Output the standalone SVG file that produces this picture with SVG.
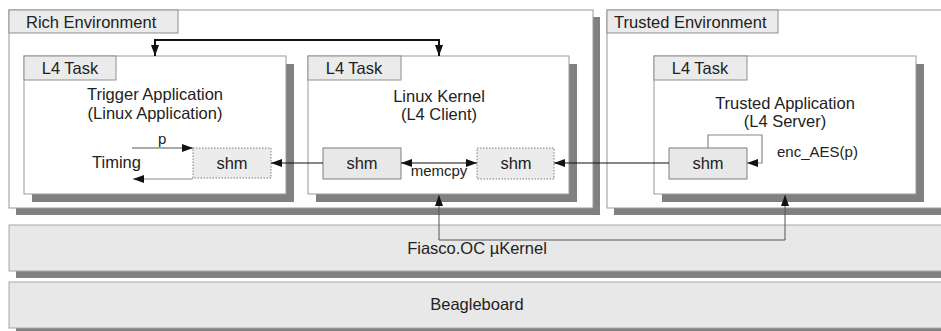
<svg xmlns="http://www.w3.org/2000/svg" width="941" height="331" viewBox="0 0 941 331">
<defs>
<style>
text{font-family:"Liberation Sans",Arial,sans-serif;fill:#222;}
.t16{font-size:16.5px;}
.t15{font-size:15px;}
.mid{text-anchor:middle;}
.shadow{fill:#808080;}
.outer{fill:#fff;stroke:#9a9a9a;stroke-width:1;}
.label{fill:#ebebeb;stroke:#8f8f8f;stroke-width:1;}
.band{fill:#e8e8e8;stroke:#a8a8a8;stroke-width:1;}
.shm{fill:#e8e8e8;stroke:#7f7f7f;stroke-width:1;}
.shmd{fill:#ececec;stroke:#7f7f7f;stroke-width:1;stroke-dasharray:1.5 1.5;}
.ln{fill:none;stroke:#111;stroke-width:1;}
.lg{fill:none;stroke:#555;stroke-width:1;}
.lgl{fill:none;stroke:#888;stroke-width:1.2;}
.thick{fill:none;stroke:#111;stroke-width:2;}
</style>
<marker id="ah" markerUnits="userSpaceOnUse" markerWidth="11" markerHeight="8" refX="11" refY="4" orient="auto">
<path d="M0,0 L11,4 L0,8 z" fill="#111"/>
</marker>
<marker id="ahs" markerUnits="userSpaceOnUse" markerWidth="11" markerHeight="8" refX="0" refY="4" orient="auto">
<path d="M11,0 L0,4 L11,8 z" fill="#111"/>
</marker>
</defs>
<rect width="941" height="331" fill="#fff"/>

<g id="beagleboard">
<rect class="shadow" x="16" y="289" width="940" height="46"/>
<rect class="band" x="9" y="282" width="940" height="46"/>
<text class="t16 mid" x="477" y="310">Beagleboard</text>
</g>

<g id="fiasco">
<rect class="shadow" x="16" y="232" width="940" height="46"/>
<rect class="band" x="9" y="225" width="940" height="46"/>
<text class="t16 mid" x="477" y="254">Fiasco.OC µKernel</text>
</g>

<g id="rich-env">
<rect class="shadow" x="16" y="17" width="584" height="198"/>
<rect class="outer" x="9" y="10" width="584" height="198"/>
<rect class="label" x="9" y="10" width="169" height="23"/>
<text class="t16" x="26" y="28">Rich Environment</text>
</g>

<g id="trusted-env">
<rect class="shadow" x="614" y="17" width="400" height="198"/>
<rect class="outer" x="607" y="10" width="400" height="198"/>
<rect class="label" x="607" y="10" width="171" height="23"/>
<text class="t16" x="614" y="28">Trusted Environment</text>
</g>

<g id="task-trigger">
<rect class="shadow" x="32" y="64" width="262" height="138"/>
<rect class="outer" x="24" y="56" width="262" height="138"/>
<rect class="label" x="24" y="56" width="92" height="24"/>
<text class="t16 mid" x="70" y="74">L4 Task</text>
<text class="t16 mid" x="155" y="100">Trigger Application</text>
<text class="t16 mid" x="155" y="119">(Linux Application)</text>
<text class="t16" x="92" y="168">Timing</text>
</g>

<g id="task-linux">
<rect class="shadow" x="316" y="64" width="261" height="138"/>
<rect class="outer" x="308" y="56" width="261" height="138"/>
<rect class="label" x="308" y="56" width="93" height="24"/>
<text class="t16 mid" x="354" y="74">L4 Task</text>
<text class="t16 mid" x="439" y="102">Linux Kernel</text>
<text class="t16 mid" x="439" y="120">(L4 Client)</text>
</g>

<g id="task-trusted">
<rect class="shadow" x="662" y="64" width="262" height="138"/>
<rect class="outer" x="654" y="56" width="262" height="138"/>
<rect class="label" x="654" y="56" width="93" height="24"/>
<text class="t16 mid" x="700" y="74">L4 Task</text>
<text class="t16 mid" x="785" y="109">Trusted Application</text>
<text class="t16 mid" x="785" y="127">(L4 Server)</text>
<text class="t15" x="777" y="157">enc_AES(p)</text>
</g>

<g id="shm1">
<rect class="shmd" x="193" y="148" width="78" height="30"/>
<text class="t16 mid" x="232" y="169">shm</text>
</g>
<g id="shm2">
<rect class="shm" x="323" y="148" width="78" height="31"/>
<text class="t16 mid" x="362" y="169">shm</text>
</g>
<g id="shm3">
<rect class="shmd" x="477" y="148" width="77" height="31"/>
<text class="t16 mid" x="516" y="169">shm</text>
</g>
<g id="shm4">
<rect class="shm" x="669" y="148" width="78" height="31"/>
<text class="t16 mid" x="708" y="169">shm</text>
</g>

<g id="connectors">
<path class="thick" d="M155,56 L155,40 L439,40 L439,56" marker-start="url(#ahs)" marker-end="url(#ah)"/>
<path class="lg" d="M132,148 L193,148" marker-end="url(#ah)"/>
<text class="t15" x="158" y="144">p</text>
<path class="lgl" d="M193,179 L133,179" marker-end="url(#ah)"/>
<path class="ln" d="M323,163 L271,163" marker-end="url(#ah)"/>
<path class="ln" d="M401,163 L477,163" marker-start="url(#ahs)" marker-end="url(#ah)"/>
<text class="t15 mid" x="439" y="176">memcpy</text>
<path class="ln" d="M669,163 L554,163" marker-end="url(#ah)"/>
<path class="lgl" d="M708,148 L708,135 L762,135 L762,163 L747,163" marker-end="url(#ah)"/>
<path class="lg" d="M439,240 L439,195"  marker-end="url(#ah)"/>
<path class="lg" d="M439,240 L785,240 L785,195" marker-end="url(#ah)"/>
</g>
</svg>
